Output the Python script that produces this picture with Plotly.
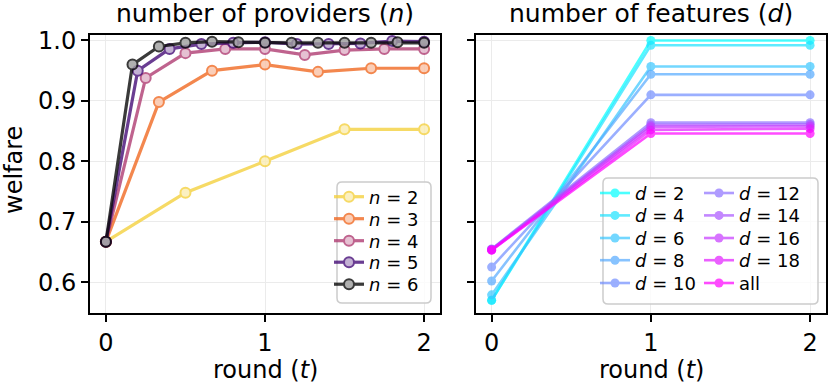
import plotly.graph_objects as go
from plotly.subplots import make_subplots

# left panel: welfare vs round for different number of providers
t_n2 = [0, 0.5, 1, 1.5, 2]
w_n2 = [0.667, 0.748, 0.800, 0.853, 0.853]
t_n3 = [0, 0.333, 0.667, 1, 1.333, 1.667, 2]
w_n3 = [0.667, 0.898, 0.950, 0.960, 0.948, 0.954, 0.954]
t_n4 = [0, 0.25, 0.5, 0.75, 1, 1.25, 1.5, 1.75, 2]
w_n4 = [0.667, 0.938, 0.979, 0.986, 0.986, 0.976, 0.984, 0.986, 0.986]
t_n5 = [0, 0.2, 0.4, 0.6, 0.8, 1, 1.2, 1.4, 1.6, 1.8, 2]
w_n5 = [0.667, 0.950, 0.986, 0.994, 0.996, 0.997, 0.994, 0.994, 0.995, 0.999, 0.998]
t_n6 = [0, 0.167, 0.333, 0.5, 0.667, 0.833, 1, 1.167, 1.333, 1.5, 1.667, 1.833, 2]
w_n6 = [0.667, 0.960, 0.990, 0.996, 0.998, 0.997, 0.996, 0.996, 0.996, 0.996, 0.996, 0.997, 0.996]

n_labels = ["<i>n</i> = 2", "<i>n</i> = 3", "<i>n</i> = 4", "<i>n</i> = 5", "<i>n</i> = 6"]
n_colors = ["#f5d13f", "#f16a23", "#b03d73", "#460d78", "#090909"]

# right panel: welfare vs round for different number of features
t_d = [0, 1, 2]
w_d2 = [0.570, 1.000, 1.000]
w_d4 = [0.570, 0.992, 0.992]
w_d6 = [0.579, 0.957, 0.957]
w_d8 = [0.602, 0.944, 0.944]
w_d10 = [0.625, 0.910, 0.910]
w_d12 = [0.655, 0.864, 0.864]
w_d14 = [0.654, 0.860, 0.861]
w_d16 = [0.654, 0.857, 0.858]
w_d18 = [0.653, 0.852, 0.854]
w_all = [0.653, 0.846, 0.846]

d_labels = ["<i>d</i> = 2", "<i>d</i> = 4", "<i>d</i> = 6", "<i>d</i> = 8", "<i>d</i> = 10",
            "<i>d</i> = 12", "<i>d</i> = 14", "<i>d</i> = 16", "<i>d</i> = 18", "all"]
d_colors = ["#00ffff", "#1ce3ff", "#38c7ff", "#55aaff", "#718eff",
            "#8e71ff", "#aa55ff", "#c738ff", "#e31cff", "#ff00ff"]

W, H = 830, 386
ML, MR, MT, MB = 90, 4, 35, 73
PW = W - ML - MR
PH = H - MT - MB
FONT = "DejaVu Sans"


def px_x(p):
    return (p - ML) / PW


def px_y(p):
    return (H - MB - p) / PH


def light(hexcol, k=0.4):
    r, g, b = (int(hexcol[i:i + 2], 16) for i in (1, 3, 5))
    mix = lambda c: round(c * k + 255 * (1 - k))
    return "#%02x%02x%02x" % (mix(r), mix(g), mix(b))


def rrect(x0, y0, x1, y1, r=5):
    pts = [("M", [(x0 + r, y0)]), ("L", [(x1 - r, y0)]), ("Q", [(x1, y0), (x1, y0 + r)]),
           ("L", [(x1, y1 - r)]), ("Q", [(x1, y1), (x1 - r, y1)]), ("L", [(x0 + r, y1)]),
           ("Q", [(x0, y1), (x0, y1 - r)]), ("L", [(x0, y0 + r)]), ("Q", [(x0, y0), (x0 + r, y0)])]
    s = ""
    for cmd, ps in pts:
        s += cmd + " " + " ".join("%.5f,%.5f" % (px_x(a), px_y(b)) for a, b in ps) + " "
    return s + "Z"


def leg_name(k):
    return "legend" if k == 1 else "legend%d" % k


fig = make_subplots(rows=1, cols=2, shared_yaxes=True)

# one small legend per entry so rows can sit where matplotlib put them
leg_font = dict(family=FONT, size=18, color="black")
legends = {}
k = 1

n_series = [(t_n2, w_n2), (t_n3, w_n3), (t_n4, w_n4), (t_n5, w_n5), (t_n6, w_n6)]
n_rows = [197, 219, 241, 262.5, 284.5]
for (tt, ww), lab, col, ry in zip(n_series, n_labels, n_colors, n_rows):
    fig.add_trace(go.Scatter(x=tt, y=ww, name=lab, mode="lines+markers", opacity=0.8,
                             line=dict(color=col, width=3.2),
                             marker=dict(size=10, color=light(col), line=dict(color=col, width=2)),
                             legend=leg_name(k)), row=1, col=1)
    legends[leg_name(k)] = dict(x=px_x(329), y=px_y(ry))
    k += 1

d_series = [w_d2, w_d4, w_d6, w_d8, w_d10, w_d12, w_d14, w_d16, w_d18, w_all]
d_rows = [193.3, 215.7, 238.3, 260.5, 283.3]
for i, (ww, lab, col) in enumerate(zip(d_series, d_labels, d_colors)):
    fig.add_trace(go.Scatter(x=t_d, y=ww, name=lab, mode="lines+markers", opacity=0.7,
                             line=dict(color=col, width=2.6),
                             marker=dict(size=9, color=col),
                             legend=leg_name(k)), row=1, col=2)
    legends[leg_name(k)] = dict(x=px_x(595 if i < 5 else 699), y=px_y(d_rows[i % 5]))
    k += 1

for name in legends:
    legends[name].update(bgcolor="rgba(0,0,0,0)", borderwidth=0, font=leg_font,
                         xanchor="left", yanchor="middle", itemwidth=30)

axis_common = dict(showline=True, linecolor="black", linewidth=2, mirror=True,
                   ticks="outside", ticklen=7, tickwidth=1.5, tickcolor="black",
                   showgrid=True, gridcolor="#ebebeb", gridwidth=1, zeroline=False,
                   automargin=False,
                   tickfont=dict(family=FONT, size=24, color="black"))

fig.update_xaxes(range=[-0.1, 2.1], tickvals=[0, 1, 2], ticktext=["0", "1", "2"], **axis_common)
fig.update_yaxes(range=[0.549, 1.009], tickvals=[0.6, 0.7, 0.8, 0.9, 1.0],
                 ticktext=["0.6", "0.7", "0.8", "0.9", "1.0"], **axis_common)
fig.update_yaxes(showticklabels=False, row=1, col=2)
fig.update_layout(xaxis=dict(domain=[0, px_x(440)]), xaxis2=dict(domain=[px_x(475.7), 1]))

title_font = dict(family=FONT, size=25, color="black")
label_font = dict(family=FONT, size=24, color="black")
notes = [
    dict(text="number of providers (<i>n</i>)", x=px_x(265), y=px_y(13), font=title_font),
    dict(text="number of features (<i>d</i>)", x=px_x(651), y=px_y(13), font=title_font),
    dict(text="round (<i>t</i>)", x=px_x(265), y=px_y(370), font=label_font),
    dict(text="round (<i>t</i>)", x=px_x(651), y=px_y(370), font=label_font),
    dict(text="welfare", x=px_x(14), y=px_y(170), font=label_font, textangle=-90),
]
for a in notes:
    a.update(xref="paper", yref="paper", showarrow=False, xanchor="center", yanchor="middle")

box_style = dict(type="path", xref="paper", yref="paper", fillcolor="rgba(255,255,255,0.8)",
                 line=dict(color="#cccccc", width=1.5), layer="above")

fig.update_layout(
    width=W, height=H,
    margin=dict(l=ML, r=MR, t=MT, b=MB),
    paper_bgcolor="white", plot_bgcolor="white",
    font=dict(family=FONT, color="black"),
    showlegend=True,
    shapes=[dict(path=rrect(337, 182, 431, 303), **box_style),
            dict(path=rrect(603, 178, 818, 304), **box_style)],
    annotations=notes,
    **legends,
)

# the page body has a default 8px margin; drop it so the figure fills the window
fig.write_html("out.html", config={"displayModeBar": False},
               post_script="document.body.style.margin='0';")
